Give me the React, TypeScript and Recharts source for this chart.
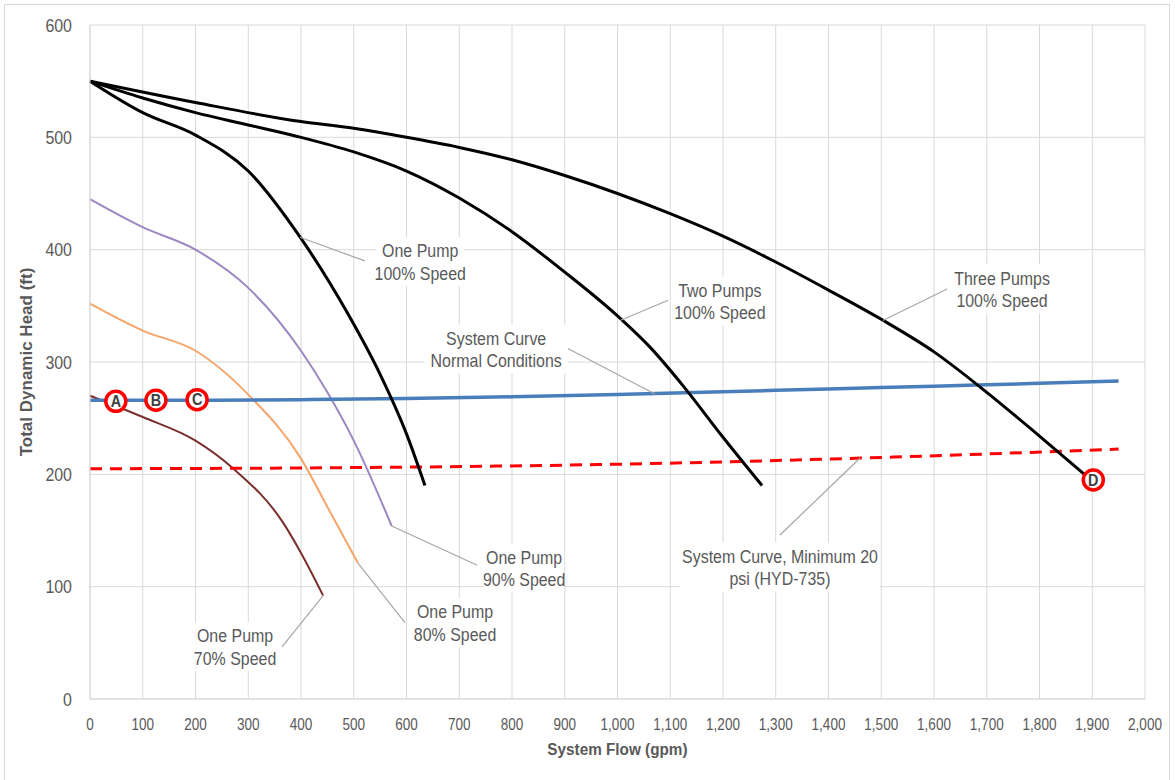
import React from 'react';
import { LineChart, Line, XAxis, YAxis, CartesianGrid, ReferenceDot, ReferenceLine } from 'recharts';

type P = { x: number; y: number };

const onePump100: P[] = [
  { x: 0, y: 550 }, { x: 100, y: 522 }, { x: 200, y: 502 }, { x: 300, y: 470 }, { x: 400, y: 410 },
  { x: 490, y: 342 }, { x: 550, y: 289 }, { x: 600, y: 236 }, { x: 635, y: 190 },
];
const twoPumps100: P[] = [
  { x: 0, y: 550 }, { x: 100, y: 535 }, { x: 200, y: 522 }, { x: 300, y: 511 }, { x: 400, y: 500 },
  { x: 500, y: 487 }, { x: 600, y: 470 }, { x: 700, y: 446 }, { x: 800, y: 416 }, { x: 900, y: 380 },
  { x: 1000, y: 341 }, { x: 1062, y: 313 }, { x: 1124, y: 279 }, { x: 1200, y: 233 }, { x: 1274, y: 190 },
];
const threePumps100: P[] = [
  { x: 0, y: 550 }, { x: 200, y: 531 }, { x: 400, y: 514 }, { x: 500, y: 508 }, { x: 600, y: 500 },
  { x: 700, y: 491 }, { x: 800, y: 480 }, { x: 900, y: 466 }, { x: 1000, y: 450 }, { x: 1100, y: 432 },
  { x: 1200, y: 412 }, { x: 1300, y: 389 }, { x: 1400, y: 364 }, { x: 1500, y: 338 }, { x: 1600, y: 309 },
  { x: 1700, y: 273 }, { x: 1800, y: 234 }, { x: 1885, y: 200 },
];
const onePump90: P[] = [
  { x: 0, y: 445 }, { x: 100, y: 420 }, { x: 200, y: 400 }, { x: 300, y: 366 }, { x: 400, y: 310 },
  { x: 450, y: 273 }, { x: 500, y: 230 }, { x: 572, y: 154 },
];
const onePump80: P[] = [
  { x: 0, y: 352 }, { x: 100, y: 328 }, { x: 200, y: 310 }, { x: 300, y: 271 }, { x: 400, y: 214 },
  { x: 450, y: 171 }, { x: 508, y: 121 },
];
const onePump70: P[] = [
  { x: 0, y: 270 }, { x: 100, y: 251 }, { x: 200, y: 230 }, { x: 272, y: 205 }, { x: 366, y: 157 },
  { x: 400, y: 130 }, { x: 442, y: 92 },
];
const systemNormal: P[] = [
  { x: 0, y: 266 }, { x: 200, y: 266 }, { x: 400, y: 266.5 }, { x: 600, y: 267.5 }, { x: 800, y: 269 },
  { x: 1000, y: 271 }, { x: 1200, y: 273.5 }, { x: 1400, y: 276 }, { x: 1600, y: 278.5 }, { x: 1800, y: 281 },
  { x: 1950, y: 283 },
];
const systemMin20: P[] = [
  { x: 0, y: 205 }, { x: 500, y: 206 }, { x: 1000, y: 209 }, { x: 1500, y: 215 }, { x: 1950, y: 222.5 },
];

const xTicks = [0, 100, 200, 300, 400, 500, 600, 700, 800, 900, 1000, 1100, 1200, 1300, 1400, 1500, 1600, 1700, 1800, 1900, 2000];
const yTicks = [0, 100, 200, 300, 400, 500, 600];

const pointLetters = ['A', 'B', 'C', 'D'];
const pointX = [49, 125, 203, 1902];
const pointY = [265, 266, 266.5, 195];

const annotationLines: string[][] = [
  ['One Pump', '100% Speed'],
  ['System Curve', 'Normal Conditions'],
  ['Two Pumps', '100% Speed'],
  ['Three Pumps', '100% Speed'],
  ['One Pump', '90% Speed'],
  ['One Pump', '80% Speed'],
  ['One Pump', '70% Speed'],
  ['System Curve, Minimum 20', 'psi (HYD-735)'],
];
const annotationX = [626, 770, 1194, 1729, 823, 692, 275, 1308];
const annotationY = [389.5, 311.6, 354.3, 365, 116.6, 68, 46.7, 117.5];
const leaderFrom: P[] = [
  { x: 398, y: 411 }, { x: 1071, y: 271.5 }, { x: 1005, y: 337 }, { x: 1503, y: 337 },
  { x: 572, y: 154 }, { x: 508, y: 121 }, { x: 442, y: 92 }, { x: 1460, y: 214.5 },
];
const leaderTo: P[] = [
  { x: 521, y: 390 }, { x: 904, y: 312.5 }, { x: 1096, y: 355 }, { x: 1625, y: 365 },
  { x: 734, y: 119 }, { x: 597, y: 68 }, { x: 364, y: 46.3 }, { x: 1308, y: 146 },
];

const FONT = "'Liberation Sans', Arial, sans-serif";
const TEXT = '#595959';
const SQUEEZE = 0.84;

const AnnotationShape = (lines: string[]) => (props: any) => {
  const { cx, cy } = props;
  const fs = 19;
  const lh = 22.5;
  const maxLen = Math.max(...lines.map((l) => l.length));
  const w = maxLen * fs * 0.5 * SQUEEZE + 8;
  const h = lines.length * lh + 4;
  return (
    <g>
      <rect x={cx - w / 2} y={cy - h / 2} width={w} height={h} fill="#ffffff" />
      {lines.map((l, i) => (
        <text
          key={i}
          x={0}
          y={0}
          transform={`translate(${cx},${cy + (i - (lines.length - 1) / 2) * lh + fs * 0.36}) scale(${SQUEEZE},1)`}
          textAnchor="middle"
          fontFamily={FONT}
          fontSize={fs}
          fill={TEXT}
        >
          {l}
        </text>
      ))}
    </g>
  );
};

const MarkerShape = (letter: string) => (props: any) => {
  const { cx, cy } = props;
  return (
    <g>
      <circle cx={cx} cy={cy} r={10} fill="#ffffff" stroke="#ff0000" strokeWidth={3.5} />
      <text
        x={0}
        y={0}
        transform={`translate(${cx},${cy + 5.8}) scale(0.9,1)`}
        textAnchor="middle"
        fontFamily={FONT}
        fontWeight="bold"
        fontSize={16}
        fill="#404040"
      >
        {letter}
      </text>
    </g>
  );
};

const XTick = (props: any) => {
  const { x, y, payload } = props;
  return (
    <text
      x={0}
      y={0}
      transform={`translate(${x},${y}) scale(0.82,1)`}
      dy="0.71em"
      textAnchor="middle"
      fontFamily={FONT}
      fontSize={16.5}
      fill={TEXT}
    >
      {Number(payload.value).toLocaleString('en-US')}
    </text>
  );
};

const YTick = (props: any) => {
  const { x, y, payload } = props;
  return (
    <text
      x={0}
      y={0}
      transform={`translate(${x},${y}) scale(${SQUEEZE},1)`}
      dy="0.355em"
      textAnchor="end"
      fontFamily={FONT}
      fontSize={19}
      fill={TEXT}
    >
      {payload.value}
    </text>
  );
};

export default function App() {
  return (
    <div style={{ position: 'absolute', left: 0, top: 0, width: 1175, height: 780, background: '#ffffff', overflow: 'hidden' }}>
      <div
        style={{
          position: 'absolute', left: 4, top: 4, width: 1166, height: 790,
          border: '1px solid #d9d9d9', boxSizing: 'border-box',
        }}
      />
      <LineChart width={1175} height={780} margin={{ top: 25, right: 30, left: 0, bottom: 0 }} style={{ position: 'absolute', left: 0, top: 0 }}>
        <CartesianGrid stroke="#d9d9d9" strokeWidth={1} />
        <XAxis
          type="number"
          dataKey="x"
          domain={[0, 2000]}
          ticks={xTicks}
          interval={0}
          height={81}
          tickSize={0}
          tickMargin={19}
          axisLine={{ stroke: '#d9d9d9' }}
          tick={<XTick />}
          label={{ value: 'System Flow (gpm)', position: 'insideBottom', offset: 25, fill: TEXT, fontSize: 17, fontWeight: 'bold', fontFamily: FONT, style: { transform: 'scaleX(0.9)', transformOrigin: '617px 750px', transformBox: 'view-box' } }}
        />
        <YAxis
          type="number"
          domain={[0, 600]}
          ticks={yTicks}
          interval={0}
          width={90}
          tickSize={0}
          tickMargin={18}
          axisLine={{ stroke: '#d9d9d9' }}
          tick={<YTick />}
          label={{ value: 'Total Dynamic Head (ft)', angle: -90, position: 'insideLeft', offset: 26, fill: TEXT, fontSize: 17, fontWeight: 'bold', fontFamily: FONT, style: { textAnchor: 'middle' } }}
        />
        <Line data={onePump70} dataKey="y" type="monotone" stroke="#7b2e2e" strokeWidth={2} dot={false} isAnimationActive={false} />
        <Line data={onePump80} dataKey="y" type="monotone" stroke="#f6a56b" strokeWidth={2} dot={false} isAnimationActive={false} />
        <Line data={onePump90} dataKey="y" type="monotone" stroke="#9d87c1" strokeWidth={2} dot={false} isAnimationActive={false} />
        <Line data={systemMin20} dataKey="y" type="monotone" stroke="#ff0000" strokeWidth={3} strokeDasharray="12 8" dot={false} isAnimationActive={false} />
        <Line data={systemNormal} dataKey="y" type="monotone" stroke="#4a7ebb" strokeWidth={3.5} dot={false} isAnimationActive={false} />
        <Line data={onePump100} dataKey="y" type="monotone" stroke="#000000" strokeWidth={3} dot={false} isAnimationActive={false} />
        <Line data={twoPumps100} dataKey="y" type="monotone" stroke="#000000" strokeWidth={3} dot={false} isAnimationActive={false} />
        <Line data={threePumps100} dataKey="y" type="monotone" stroke="#000000" strokeWidth={3} dot={false} isAnimationActive={false} />
        {leaderFrom.map((f, i) => (
          <ReferenceLine key={'l' + i} segment={[f, leaderTo[i]]} stroke="#a6a6a6" strokeWidth={1.2} ifOverflow="visible" />
        ))}
        {annotationLines.map((lines, i) => (
          <ReferenceDot key={'a' + i} x={annotationX[i]} y={annotationY[i]} r={0} ifOverflow="visible" shape={AnnotationShape(lines)} />
        ))}
        {pointLetters.map((l, i) => (
          <ReferenceDot key={'p' + i} x={pointX[i]} y={pointY[i]} r={10} ifOverflow="visible" shape={MarkerShape(l)} />
        ))}
      </LineChart>
    </div>
  );
}
